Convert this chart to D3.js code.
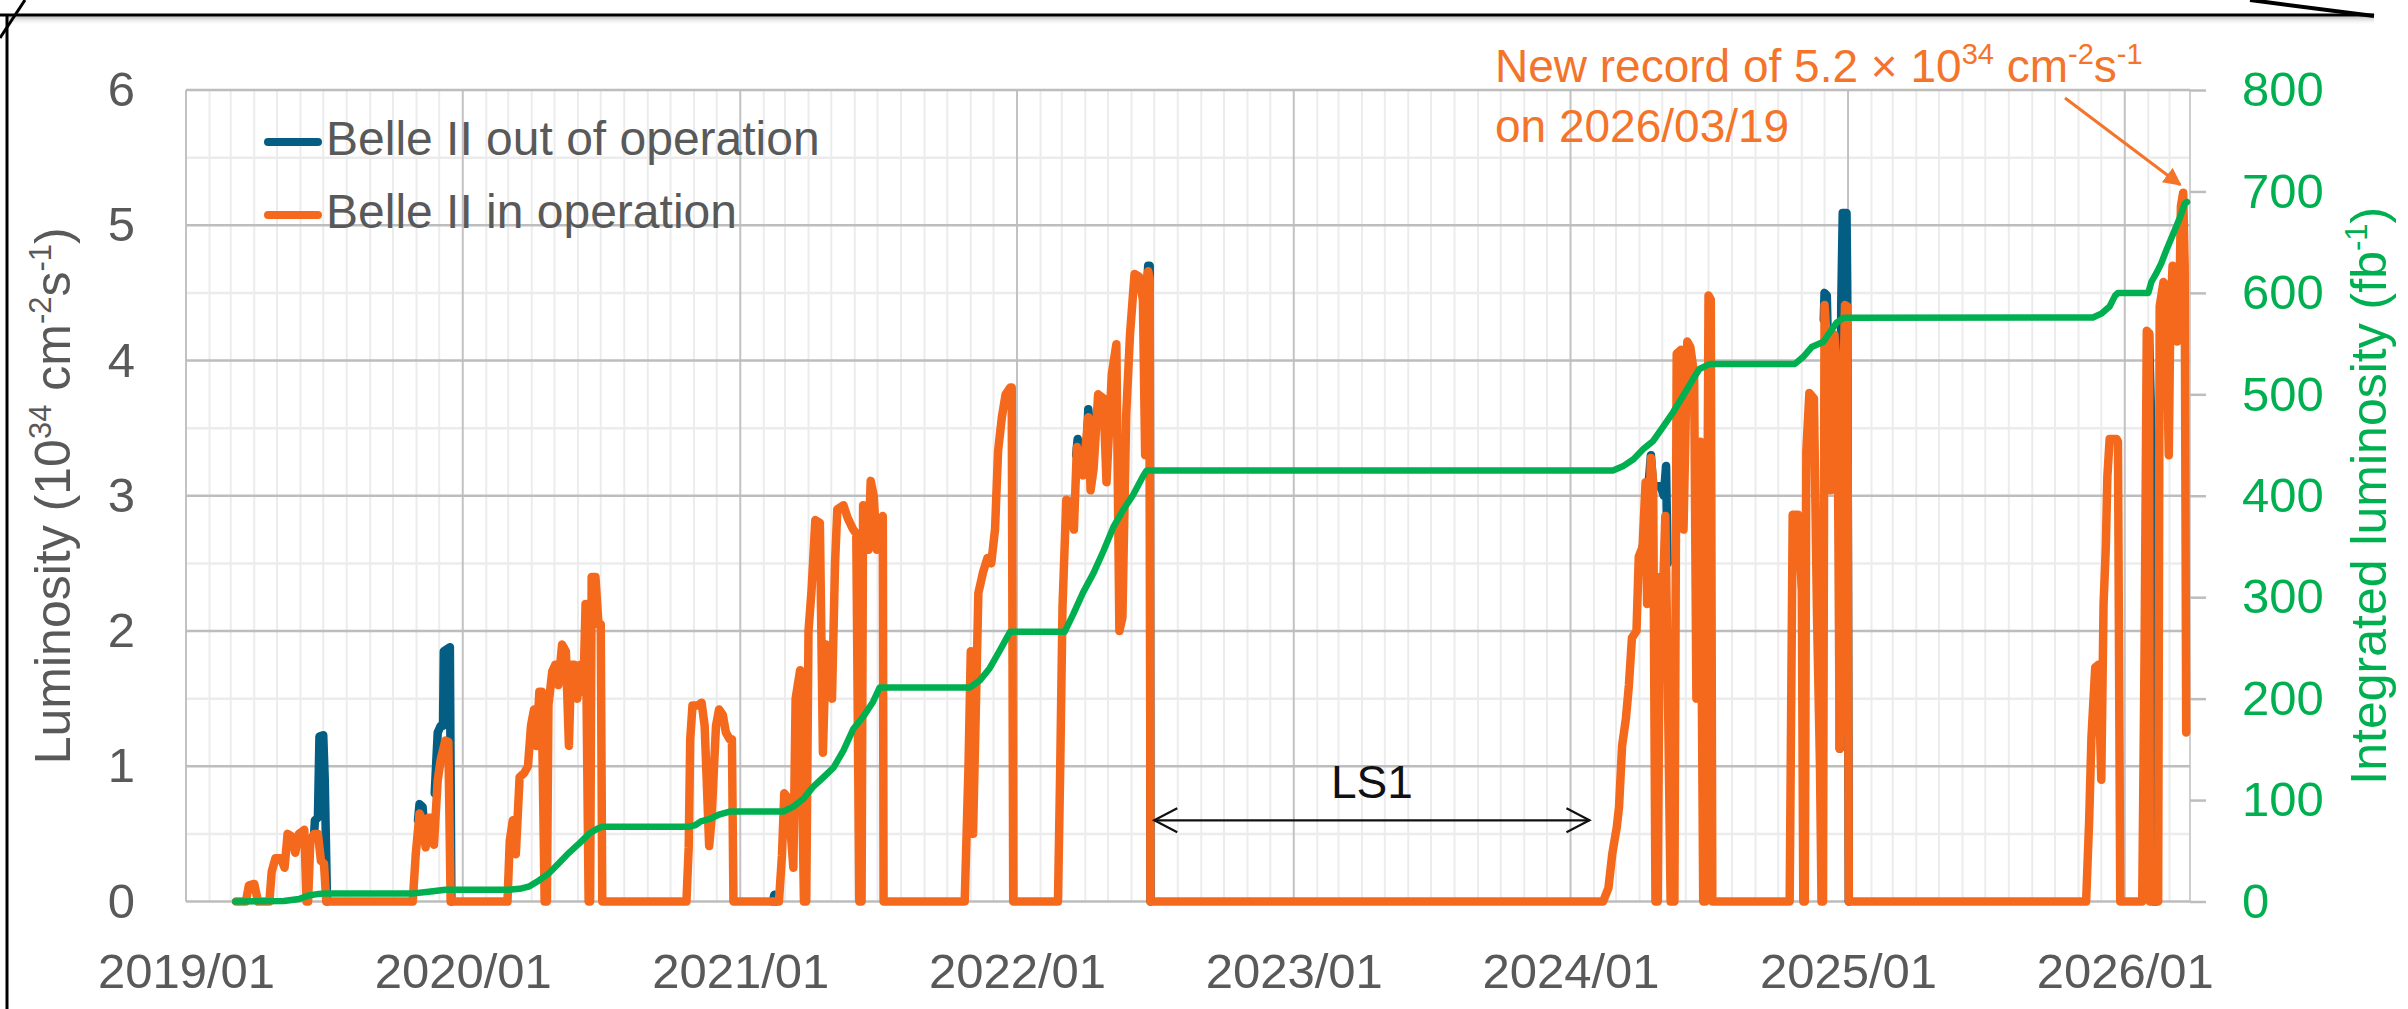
<!DOCTYPE html>
<html>
<head>
<meta charset="utf-8">
<script src="https://cdn.jsdelivr.net/npm/d3@7"></script>
<style>
  body { margin: 0; background: #ffffff; }
  svg { display: block; }
</style>
</head>
<body>
<svg id="chart" width="2408" height="1009"></svg>
<script>
// ---------------- DATA ----------------
// Peak luminosity while Belle II is in operation (10^34 cm^-2 s^-1)
const inOperation = [
  ["2019-03-08",0],["2019-03-21",0],["2019-03-25",0.12],["2019-04-01",0.13],["2019-04-06",0],
  ["2019-04-21",0],["2019-04-24",0.22],["2019-04-29",0.32],["2019-05-06",0.32],["2019-05-11",0.25],
  ["2019-05-15",0.5],["2019-05-21",0.48],["2019-05-25",0.36],["2019-05-30",0.5],["2019-06-06",0.53],
  ["2019-06-09",0],["2019-06-11",0],["2019-06-14",0.45],["2019-06-19",0.5],["2019-06-24",0.5],
  ["2019-06-28",0.3],["2019-07-02",0.28],["2019-07-05",0],
  ["2019-10-27",0],["2019-10-31",0.35],["2019-11-05",0.65],["2019-11-09",0.6],["2019-11-13",0.4],
  ["2019-11-17",0.62],["2019-11-21",0.62],["2019-11-24",0.42],["2019-11-29",0.9],["2019-12-03",1.05],
  ["2019-12-09",1.19],["2019-12-13",1.18],["2019-12-16",0],
  ["2020-02-29",0],["2020-03-03",0.45],["2020-03-07",0.6],["2020-03-11",0.35],["2020-03-16",0.92],
  ["2020-03-22",0.95],["2020-03-27",1.0],["2020-03-31",1.3],["2020-04-04",1.42],["2020-04-07",1.15],
  ["2020-04-11",1.55],["2020-04-14",1.55],["2020-04-18",0],["2020-04-21",0],["2020-04-23",1.45],
  ["2020-04-28",1.7],["2020-05-02",1.75],["2020-05-06",1.6],["2020-05-11",1.9],["2020-05-16",1.85],
  ["2020-05-20",1.15],["2020-05-23",1.75],["2020-05-27",1.75],["2020-05-31",1.5],["2020-06-04",1.75],
  ["2020-06-08",1.55],["2020-06-11",2.2],["2020-06-15",0],["2020-06-17",0],["2020-06-19",2.4],
  ["2020-06-24",2.4],["2020-06-28",2.05],["2020-07-01",2.05],["2020-07-03",0],
  ["2020-10-22",0],["2020-10-25",0.4],["2020-10-27",1.2],["2020-10-30",1.45],["2020-11-06",1.45],
  ["2020-11-11",1.47],["2020-11-15",1.3],["2020-11-21",0.41],["2020-11-24",0.6],["2020-11-30",1.3],
  ["2020-12-04",1.42],["2020-12-09",1.38],["2020-12-13",1.25],["2020-12-18",1.2],["2020-12-21",1.2],
  ["2020-12-23",0],
  ["2021-02-21",0],["2021-02-25",0.34],["2021-02-28",0.8],["2021-03-04",0.77],["2021-03-08",0.55],
  ["2021-03-12",0.25],["2021-03-15",1.5],["2021-03-21",1.71],["2021-03-26",0],["2021-03-29",0],
  ["2021-04-01",2.0],["2021-04-05",2.3],["2021-04-10",2.82],["2021-04-16",2.8],["2021-04-20",1.1],
  ["2021-04-24",1.9],["2021-04-28",1.75],["2021-05-02",1.5],["2021-05-06",2.5],["2021-05-09",2.9],
  ["2021-05-17",2.93],["2021-05-23",2.83],["2021-05-30",2.75],["2021-06-03",2.72],["2021-06-07",0],
  ["2021-06-10",0],["2021-06-12",2.93],["2021-06-16",2.6],["2021-06-19",2.6],["2021-06-22",3.11],
  ["2021-06-26",3.0],["2021-06-30",2.6],["2021-07-04",2.82],["2021-07-08",2.85],["2021-07-09",0],
  ["2021-10-24",0],["2021-10-29",1.0],["2021-11-01",1.85],["2021-11-04",0.5],["2021-11-08",1.5],
  ["2021-11-11",2.28],["2021-11-17",2.43],["2021-11-23",2.54],["2021-11-28",2.5],["2021-12-03",2.75],
  ["2021-12-07",3.33],["2021-12-12",3.58],["2021-12-17",3.75],["2021-12-23",3.8],["2021-12-25",3.8],
  ["2021-12-27",0],
  ["2022-02-24",0],["2022-02-27",1.0],["2022-03-02",2.18],["2022-03-07",2.97],["2022-03-13",2.95],
  ["2022-03-17",2.75],["2022-03-21",3.36],["2022-03-25",3.25],["2022-03-29",3.15],["2022-04-05",3.58],
  ["2022-04-08",3.04],["2022-04-12",3.2],["2022-04-18",3.75],["2022-04-25",3.72],["2022-04-29",3.1],
  ["2022-05-06",3.9],["2022-05-12",4.12],["2022-05-16",2.0],["2022-05-20",2.1],["2022-05-25",3.6],
  ["2022-05-30",4.19],["2022-06-05",4.64],["2022-06-11",4.62],["2022-06-16",4.45],["2022-06-19",3.3],
  ["2022-06-23",4.66],["2022-06-25",4.6],["2022-06-26",0],
  ["2024-02-13",0],["2024-02-20",0.1],["2024-02-25",0.35],["2024-03-02",0.55],["2024-03-05",0.7],
  ["2024-03-09",1.15],["2024-03-14",1.35],["2024-03-18",1.6],["2024-03-22",1.95],["2024-03-28",2.0],
  ["2024-03-31",2.55],["2024-04-05",2.62],["2024-04-09",3.1],["2024-04-11",2.2],["2024-04-16",3.28],
  ["2024-04-19",3.1],["2024-04-22",0],["2024-04-25",0],["2024-04-28",2.4],["2024-05-01",2.1],
  ["2024-05-05",2.85],["2024-05-08",1.75],["2024-05-12",0],["2024-05-17",0],["2024-05-20",4.05],
  ["2024-05-26",4.08],["2024-05-29",2.75],["2024-06-03",4.14],["2024-06-07",4.1],["2024-06-12",3.9],
  ["2024-06-15",1.5],["2024-06-20",3.4],["2024-06-24",0],["2024-06-27",0],["2024-07-01",4.48],
  ["2024-07-04",4.45],["2024-07-06",0],
  ["2024-10-16",0],["2024-10-20",2.86],["2024-10-27",2.86],["2024-11-01",2.3],["2024-11-03",0],
  ["2024-11-05",0],["2024-11-07",3.33],["2024-11-11",3.76],["2024-11-17",3.72],["2024-11-21",2.14],
  ["2024-11-25",1.0],["2024-11-27",0],["2024-11-29",0],["2024-12-01",4.41],["2024-12-06",3.97],
  ["2024-12-09",3.04],["2024-12-14",4.19],["2024-12-18",3.87],["2024-12-21",1.13],["2024-12-25",3.5],
  ["2024-12-28",4.41],["2024-12-31",4.4],["2025-01-02",0],
  ["2025-11-11",0],["2025-11-15",0.6],["2025-11-18",1.21],["2025-11-23",1.73],["2025-11-27",1.75],
  ["2025-12-01",0.9],["2025-12-04",2.2],["2025-12-07",2.62],["2025-12-09",3.14],["2025-12-12",3.42],
  ["2025-12-21",3.42],["2025-12-23",3.4],["2025-12-26",0],
  ["2026-01-24",0],["2026-01-27",1.8],["2026-01-30",4.22],["2026-02-02",4.2],["2026-02-03",0],
  ["2026-02-14",0],["2026-02-16",4.4],["2026-02-21",4.58],["2026-02-24",4.55],["2026-02-26",3.9],
  ["2026-02-28",3.3],["2026-03-02",4.3],["2026-03-05",4.7],["2026-03-09",4.55],["2026-03-11",4.14],
  ["2026-03-14",4.46],["2026-03-16",5.14],["2026-03-19",5.24],["2026-03-21",4.7],["2026-03-23",1.25]
];

// Peak luminosity with Belle II out of operation (only where it shows above the orange trace; null = gap)
const outOfOperation = [
  ["2019-06-19",0.5],["2019-06-20",0.6],["2019-06-24",0.62],["2019-06-26",1.22],["2019-07-01",1.23],
  ["2019-07-03",0.9],["2019-07-06",0], null,
  ["2019-11-03",0.6],["2019-11-05",0.72],["2019-11-09",0.7],["2019-11-11",0.55], null,
  ["2019-11-25",0.8],["2019-11-29",1.25],["2019-12-03",1.3],["2019-12-06",1.3],["2019-12-07",1.85],
  ["2019-12-15",1.88],["2019-12-17",0], null,
  ["2021-02-13",0],["2021-02-15",0.05],["2021-02-17",0], null,
  ["2022-03-20",3.3],["2022-03-22",3.42],["2022-03-24",3.3], null,
  ["2022-04-04",3.5],["2022-04-05",3.64],["2022-04-07",3.5], null,
  ["2022-06-22",4.6],["2022-06-23",4.7],["2022-06-25",4.7],["2022-06-26",0], null,
  ["2024-04-05",2.62],["2024-04-07",2.66],["2024-04-16",3.3],["2024-04-19",3.07],["2024-04-29",3.07],
  ["2024-05-03",3.0],["2024-05-06",3.22],["2024-05-08",2.5], null,
  ["2024-11-30",4.3],["2024-12-01",4.5],["2024-12-04",4.48],["2024-12-06",3.97], null,
  ["2024-12-21",1.13],["2024-12-23",4.4],["2024-12-25",5.09],["2024-12-30",5.09],["2024-12-31",4.5],
  ["2025-01-02",0], null,
  ["2026-02-02",4.2],["2026-02-05",3.5],["2026-02-07",3.4],["2026-02-08",0],["2026-02-11",0]
];

// Integrated luminosity (fb^-1)
const integrated = [
  ["2019-03-07",0],["2019-05-10",0.5],["2019-05-30",2.5],["2019-06-12",6],["2019-06-25",7.5],
  ["2019-07-03",8],["2019-10-28",8],["2019-11-17",9.7],["2019-12-09",11.5],["2020-03-01",11.5],
  ["2020-03-16",12.5],["2020-03-29",15],["2020-04-11",21],["2020-04-24",28],["2020-05-07",38],
  ["2020-05-20",48],["2020-06-03",57.5],["2020-06-16",67],["2020-06-27",72],["2020-07-03",73.7],
  ["2020-10-26",73.7],["2020-11-03",75.4],["2020-11-10",79],["2020-11-22",81.5],["2020-12-05",86],
  ["2020-12-18",88.7],["2021-02-27",88.7],["2021-03-12",93.5],["2021-03-25",101],["2021-04-07",113],
  ["2021-04-20",122],["2021-05-04",132],["2021-05-17",148.7],["2021-05-30",170],["2021-06-12",182],
  ["2021-06-25",196.7],["2021-07-04",211],["2021-10-31",211],["2021-11-13",218],["2021-11-26",230],
  ["2021-12-09",247],["2021-12-23",266],["2022-03-05",266],["2022-03-16",283],["2022-03-29",304.5],
  ["2022-04-12",324],["2022-04-25",345.5],["2022-05-08",369],["2022-05-21",386],["2022-06-03",400.7],
  ["2022-06-16",419],["2022-06-21",425],["2024-02-26",425],["2024-03-10",429],["2024-03-24",436],
  ["2024-04-06",446],["2024-04-19",454],["2024-05-02",468],["2024-05-15",482],["2024-05-29",499],
  ["2024-06-11",515.5],["2024-06-19",525],["2024-07-03",530],["2024-10-23",530],["2024-11-03",537],
  ["2024-11-14",546.6],["2024-11-29",551.5],["2024-12-08",561],["2024-12-17",570.6],["2024-12-26",575.4],
  ["2025-11-20",575.7],["2025-12-01",579.5],["2025-12-12",586.5],["2025-12-19",597],["2025-12-23",600],
  ["2026-02-01",600],["2026-02-05",610.7],["2026-02-12",620],["2026-02-18",629],["2026-02-25",642.5],
  ["2026-03-06",658.6],["2026-03-15",674.8],["2026-03-21",688],["2026-03-24",689.6]
];

const leftTicks = [0, 1, 2, 3, 4, 5, 6];
const rightTicks = [0, 100, 200, 300, 400, 500, 600, 700, 800];
const xTickYears = [2019, 2020, 2021, 2022, 2023, 2024, 2025, 2026];
const legendLabels = ["Belle II out of operation", "Belle II in operation"];

// ---------------- STYLE ----------------
const C_ORANGE = "#f5691c";
const C_TEAL = "#045e84";
const C_GREEN = "#00b050";
const C_TEXT = "#595959";
const C_NOTE = "#f4742a";
const FONT = "'Liberation Sans', Arial, sans-serif";

const svg = d3.select("#chart");
const parse = d3.timeParse("%Y-%m-%d");

const L = 186, R = 2190, T = 90, B = 901.5;
const x = d3.scaleTime().domain([parse("2019-01-01"), parse("2026-03-28")]).range([L, R]);
const yL = d3.scaleLinear().domain([0, 6]).range([B, T]);
const yR = d3.scaleLinear().domain([0, 800]).range([B, T]);

// ---------------- FRAME (decorative border) ----------------
const defs = svg.append("defs");
const grad = defs.append("linearGradient").attr("id", "shadow").attr("x1", 0).attr("y1", 0).attr("x2", 0).attr("y2", 1);
grad.append("stop").attr("offset", "0%").attr("stop-color", "#8c8c8c").attr("stop-opacity", 0.55);
grad.append("stop").attr("offset", "100%").attr("stop-color", "#ffffff").attr("stop-opacity", 0);
svg.append("rect").attr("x", 8).attr("y", 16.5).attr("width", 2366).attr("height", 9).attr("fill", "url(#shadow)");
const frame = svg.append("g").attr("stroke", "#000").attr("fill", "none");
frame.append("line").attr("x1", 0).attr("y1", 15).attr("x2", 2374).attr("y2", 15).attr("stroke-width", 3);
frame.append("line").attr("x1", 7).attr("y1", 15).attr("x2", 7).attr("y2", 1009).attr("stroke-width", 3);
frame.append("line").attr("x1", 0).attr("y1", 38).attr("x2", 25).attr("y2", 0).attr("stroke-width", 3);
frame.append("line").attr("x1", 2250).attr("y1", 0).attr("x2", 2374).attr("y2", 16).attr("stroke-width", 4);

// ---------------- GRID ----------------
const grid = svg.append("g");
const months = d3.timeMonth.range(x.domain()[0], x.domain()[1]);
grid.selectAll(".mv").data(months.filter(d => d.getMonth() !== 0)).join("line")
  .attr("x1", d => x(d)).attr("x2", d => x(d)).attr("y1", T).attr("y2", B)
  .attr("stroke", "#ececec").attr("stroke-width", 2);
grid.selectAll(".mh").data(d3.range(0.5, 6, 1)).join("line")
  .attr("x1", L).attr("x2", R).attr("y1", d => yL(d)).attr("y2", d => yL(d))
  .attr("stroke", "#ececec").attr("stroke-width", 2.5);
grid.selectAll(".Mv").data(xTickYears.map(yr => new Date(yr, 0, 1))).join("line")
  .attr("x1", d => x(d)).attr("x2", d => x(d)).attr("y1", T).attr("y2", B)
  .attr("stroke", "#c2c2c2").attr("stroke-width", 2);
grid.append("line").attr("x1", R).attr("x2", R).attr("y1", T).attr("y2", B)
  .attr("stroke", "#cfcfcf").attr("stroke-width", 2);
grid.selectAll(".Mh").data(leftTicks).join("line")
  .attr("x1", L).attr("x2", R).attr("y1", d => yL(d)).attr("y2", d => yL(d))
  .attr("stroke", "#bdbdbd").attr("stroke-width", 2.5);

// ---------------- AXES ----------------
const xAxis = svg.append("g").attr("transform", `translate(0,${B})`)
  .call(d3.axisBottom(x).tickValues(xTickYears.map(yr => new Date(yr, 0, 1)))
    .tickFormat(d3.timeFormat("%Y/%m")).tickSize(0).tickPadding(52));
xAxis.select(".domain").remove();
xAxis.attr("font-size", 49).attr("font-family", FONT);
xAxis.selectAll("text").attr("fill", C_TEXT);

const lAxis = svg.append("g").attr("transform", `translate(${L},0)`)
  .call(d3.axisLeft(yL).tickValues(leftTicks).tickFormat(d3.format("d")).tickSize(0).tickPadding(51));
lAxis.select(".domain").remove();
lAxis.attr("font-size", 49).attr("font-family", FONT);
lAxis.selectAll("text").attr("fill", C_TEXT);

const rAxis = svg.append("g").attr("transform", `translate(${R},0)`)
  .call(d3.axisRight(yR).tickValues(rightTicks).tickFormat(d3.format("d")).tickSize(16).tickPadding(36));
rAxis.select(".domain").remove();
rAxis.attr("font-size", 49).attr("font-family", FONT);
rAxis.selectAll("line").attr("stroke", "#bdbdbd").attr("stroke-width", 2.5);
rAxis.selectAll("text").attr("fill", C_GREEN);

// ---------------- SERIES ----------------
const lumLine = d3.line().defined(d => d !== null).x(d => x(parse(d[0]))).y(d => yL(d[1]));
const intLine = d3.line().x(d => x(parse(d[0]))).y(d => yR(d[1]));

svg.append("path").datum(outOfOperation).attr("d", lumLine)
  .attr("fill", "none").attr("stroke", C_TEAL).attr("stroke-width", 8.5)
  .attr("stroke-linejoin", "round").attr("stroke-linecap", "round");
svg.append("path").datum(inOperation).attr("d", lumLine)
  .attr("fill", "none").attr("stroke", C_ORANGE).attr("stroke-width", 8.5)
  .attr("stroke-linejoin", "round").attr("stroke-linecap", "round");
svg.append("path").datum(integrated).attr("d", intLine)
  .attr("fill", "none").attr("stroke", C_GREEN).attr("stroke-width", 6.5)
  .attr("stroke-linejoin", "round").attr("stroke-linecap", "round");

// ---------------- LEGEND ----------------
const legend = svg.append("g").attr("font-family", FONT).attr("font-size", 48).attr("fill", C_TEXT);
const legColors = [C_TEAL, C_ORANGE];
legendLabels.forEach((lab, i) => {
  const cy = 142 + i * 73;
  legend.append("line").attr("x1", 268).attr("x2", 318).attr("y1", cy).attr("y2", cy)
    .attr("stroke", legColors[i]).attr("stroke-width", 8).attr("stroke-linecap", "round");
  legend.append("text").attr("x", 326).attr("y", cy + 13).text(lab);
});

// ---------------- TEXT WITH SUPERSCRIPTS ----------------
function supText(sel, parts, supSize, shift) {
  let raised = false;
  parts.forEach(p => {
    const ts = sel.append("tspan").text(p.t);
    if (p.sup) {
      ts.attr("dy", raised ? 0 : -shift).attr("font-size", supSize);
      raised = true;
    } else {
      if (raised) ts.attr("dy", shift);
      raised = false;
    }
  });
}

// ---------------- AXIS TITLES ----------------
const lt = svg.append("text").attr("transform", `translate(70,${(T + B) / 2}) rotate(-90)`)
  .attr("text-anchor", "middle").attr("font-family", FONT).attr("font-size", 50).attr("fill", C_TEXT);
supText(lt, [{t:"Luminosity (10"},{t:"34",sup:true},{t:" cm"},{t:"-2",sup:true},{t:"s"},{t:"-1",sup:true},{t:")"}], 31, 19);

const rt = svg.append("text").attr("transform", `translate(2386,${(T + B) / 2}) rotate(-90)`)
  .attr("text-anchor", "middle").attr("font-family", FONT).attr("font-size", 50).attr("fill", C_GREEN);
supText(rt, [{t:"Integrated luminosity (fb"},{t:"-1",sup:true},{t:")"}], 31, 19);

// ---------------- ANNOTATIONS ----------------
const rec = svg.append("text").attr("x", 1495).attr("y", 82).attr("font-family", FONT)
  .attr("font-size", 46).attr("fill", C_NOTE);
supText(rec, [{t:"New record of 5.2 \u00d7 10"},{t:"34",sup:true},{t:" cm"},{t:"-2",sup:true},{t:"s"},{t:"-1",sup:true}], 29, 18);
svg.append("text").attr("x", 1495).attr("y", 142).attr("font-family", FONT)
  .attr("font-size", 46).attr("fill", C_NOTE).text("on 2026/03/19");

defs.append("marker").attr("id", "arrO").attr("viewBox", "0 0 10 10").attr("refX", 9).attr("refY", 5)
  .attr("markerWidth", 6).attr("markerHeight", 6).attr("orient", "auto")
  .append("path").attr("d", "M0,0 L10,5 L0,10 z").attr("fill", C_NOTE);
svg.append("line").attr("x1", 2065).attr("y1", 98)
  .attr("x2", x(parse("2026-03-19")) - 3).attr("y2", yL(5.24) - 8)
  .attr("stroke", C_NOTE).attr("stroke-width", 3).attr("marker-end", "url(#arrO)");

// LS1 double arrow
const ls1x1 = x(parse("2022-07-01")), ls1x2 = x(parse("2024-01-26")), ls1y = yL(0.6);
const ls = svg.append("g").attr("stroke", "#111").attr("fill", "none").attr("stroke-width", 2.2);
ls.append("line").attr("x1", ls1x1).attr("x2", ls1x2).attr("y1", ls1y).attr("y2", ls1y);
ls.append("path").attr("d", `M${ls1x1 + 23},${ls1y - 12} L${ls1x1},${ls1y} L${ls1x1 + 23},${ls1y + 12}`);
ls.append("path").attr("d", `M${ls1x2 - 23},${ls1y - 12} L${ls1x2},${ls1y} L${ls1x2 - 23},${ls1y + 12}`);
svg.append("text").attr("x", (ls1x1 + ls1x2) / 2).attr("y", 798).attr("text-anchor", "middle")
  .attr("font-family", FONT).attr("font-size", 46).attr("fill", "#111").text("LS1");
</script>
</body>
</html>
